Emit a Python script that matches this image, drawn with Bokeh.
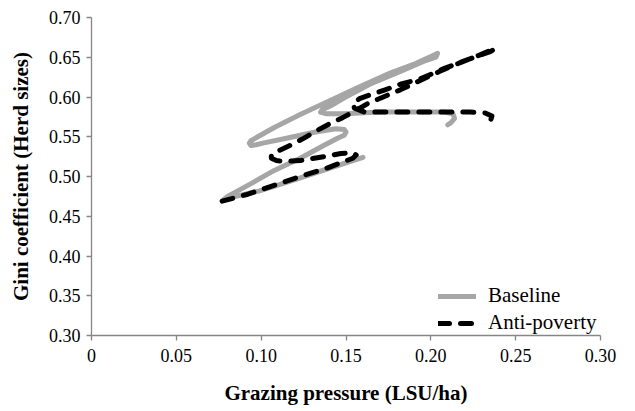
from bokeh.plotting import figure
from bokeh.models import Range1d, FixedTicker, Legend, LegendItem, ColumnDataSource
from bokeh.embed import file_html
from bokeh.resources import INLINE

# Trajectories: grazing pressure (LSU/ha) vs Gini coefficient of herd sizes
baseline_x = [0.160, 0.141, 0.120, 0.099, 0.085, 0.078, 0.081, 0.094, 0.108, 0.123,
              0.136, 0.145, 0.149, 0.150, 0.149, 0.144, 0.132, 0.117, 0.101, 0.097,
              0.094, 0.093, 0.094, 0.098, 0.108, 0.123, 0.141, 0.158, 0.176, 0.191,
              0.201, 0.204, 0.203, 0.196, 0.182, 0.164, 0.149, 0.141, 0.136, 0.135,
              0.138, 0.149, 0.170, 0.194, 0.208, 0.213, 0.214, 0.212, 0.210]
baseline_y = [0.524, 0.511, 0.496, 0.482, 0.475, 0.471, 0.476, 0.491, 0.508, 0.523,
              0.538, 0.548, 0.552, 0.556, 0.559, 0.560, 0.556, 0.549, 0.542, 0.540,
              0.539, 0.542, 0.545, 0.550, 0.562, 0.578, 0.596, 0.613, 0.630, 0.642,
              0.652, 0.655, 0.650, 0.645, 0.632, 0.616, 0.599, 0.589, 0.584, 0.581,
              0.579, 0.579, 0.581, 0.581, 0.581, 0.579, 0.573, 0.568, 0.565]

antipoverty_x = [0.077, 0.091, 0.105, 0.123, 0.138, 0.148, 0.154, 0.156, 0.154, 0.147,
                 0.140, 0.134, 0.123, 0.114, 0.109, 0.106, 0.106, 0.109, 0.117, 0.125,
                 0.133, 0.141, 0.148, 0.155, 0.163, 0.173, 0.182, 0.194, 0.205, 0.217,
                 0.229, 0.238, 0.235, 0.223, 0.208, 0.194, 0.182, 0.173, 0.166, 0.158,
                 0.154, 0.155, 0.161, 0.182, 0.205, 0.223, 0.232, 0.236, 0.235, 0.233]
antipoverty_y = [0.469, 0.477, 0.487, 0.500, 0.510, 0.518, 0.523, 0.527, 0.530, 0.529,
                 0.526, 0.524, 0.520, 0.519, 0.520, 0.523, 0.527, 0.531, 0.539, 0.548,
                 0.558, 0.567, 0.574, 0.582, 0.592, 0.601, 0.609, 0.621, 0.632, 0.643,
                 0.653, 0.661, 0.657, 0.648, 0.636, 0.623, 0.616, 0.609, 0.604, 0.598,
                 0.592, 0.586, 0.581, 0.581, 0.581, 0.581, 0.580, 0.576, 0.569, 0.565]

x_ticks = [0, 0.05, 0.1, 0.15, 0.2, 0.25, 0.3]
x_tick_labels = ["0", "0.05", "0.10", "0.15", "0.20", "0.25", "0.30"]
y_ticks = [0.3, 0.35, 0.4, 0.45, 0.5, 0.55, 0.6, 0.65, 0.7]
y_tick_labels = ["0.30", "0.35", "0.40", "0.45", "0.50", "0.55", "0.60", "0.65", "0.70"]

SERIF = "Liberation Serif"
AXIS_GREY = "#868686"

p = figure(width=635, height=411, output_backend="svg", toolbar_location=None,
           x_range=Range1d(0, 0.30), y_range=Range1d(0.30, 0.70),
           min_border_left=91, min_border_right=35, min_border_top=17,
           min_border_bottom=76)
p.outline_line_color = None
p.xgrid.visible = False
p.ygrid.visible = False
p.background_fill_color = "white"
p.border_fill_color = "white"

src_base = ColumnDataSource(dict(x=baseline_x, y=baseline_y))
src_anti = ColumnDataSource(dict(x=antipoverty_x, y=antipoverty_y))

r_base = p.line("x", "y", source=src_base, line_color="#a6a6a6", line_width=5,
                line_cap="round", line_join="round")
r_anti = p.line("x", "y", source=src_anti, line_color="black", line_width=5,
                line_dash="11 11", line_cap="round", line_join="round")

for ax, ticks, labels in ((p.xaxis[0], x_ticks, x_tick_labels),
                          (p.yaxis[0], y_ticks, y_tick_labels)):
    ax.ticker = FixedTicker(ticks=ticks)
    ax.major_label_overrides = dict(zip(ticks, labels))
    ax.axis_line_color = AXIS_GREY
    ax.axis_line_width = 1.3
    ax.major_tick_line_color = AXIS_GREY
    ax.major_tick_line_width = 1.3
    ax.major_tick_in = 0
    ax.major_tick_out = 5
    ax.minor_tick_line_color = None
    ax.major_label_text_font = SERIF
    ax.major_label_text_font_size = "18px"
    ax.major_label_text_color = "black"
    ax.axis_label_text_font = SERIF
    ax.axis_label_text_font_style = "bold"
    ax.axis_label_text_font_size = "21px"
    ax.axis_label_text_color = "black"

p.xaxis.axis_label = "Grazing pressure (LSU/ha)"
p.yaxis.axis_label = "Gini coefficient (Herd sizes)"
p.xaxis.major_label_standoff = 8
p.xaxis.axis_label_standoff = 16
p.yaxis.major_label_standoff = 6
p.yaxis.axis_label_standoff = 13

legend = Legend(items=[LegendItem(label="Baseline", renderers=[r_base]),
                       LegendItem(label="Anti-poverty", renderers=[r_anti])],
                location=(347, 0), border_line_color=None, background_fill_alpha=0,
                padding=0, margin=0, spacing=2, label_standoff=12,
                glyph_width=38, glyph_height=22, label_height=24,
                label_text_font=SERIF, label_text_font_size="21px",
                label_text_color="black")
p.add_layout(legend, "center")

open("out.html", "w").write(file_html(p, INLINE))
